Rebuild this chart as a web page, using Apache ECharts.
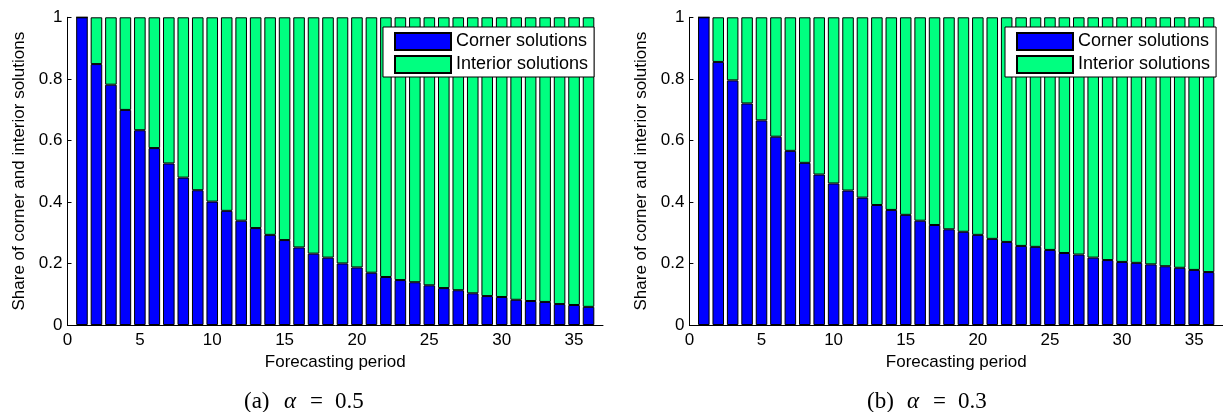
<!DOCTYPE html>
<html>
<head>
<meta charset="utf-8">
<script src="https://cdn.jsdelivr.net/npm/echarts@6/dist/echarts.min.js"></script>
<style>
html,body{margin:0;padding:0;background:#fff;}
#c{width:1223px;height:412px;}
</style>
</head>
<body>
<div id="c"></div>
<script>
// x-axis positions 0..37 (bars occupy 1..36)
const axisPositions = ['0','1','2','3','4','5','6','7','8','9','10','11','12','13','14','15','16','17','18','19','20','21','22','23','24','25','26','27','28','29','30','31','32','33','34','35','36','37'];
const periods = [1,2,3,4,5,6,7,8,9,10,11,12,13,14,15,16,17,18,19,20,21,22,23,24,25,26,27,28,29,30,31,32,33,34,35,36];
const xTicks = [0,5,10,15,20,25,30,35];
const yTicks = [0,0.2,0.4,0.6,0.8,1];
const cornerA = [1.000,0.848,0.781,0.699,0.633,0.575,0.525,0.479,0.438,0.401,0.371,0.339,0.315,0.293,0.276,0.252,0.232,0.219,0.200,0.187,0.170,0.156,0.146,0.139,0.129,0.120,0.113,0.103,0.094,0.091,0.082,0.078,0.075,0.068,0.065,0.059];
const interiorA = [0.000,0.152,0.219,0.301,0.367,0.425,0.475,0.521,0.562,0.599,0.629,0.661,0.685,0.707,0.724,0.748,0.768,0.781,0.800,0.813,0.830,0.844,0.854,0.861,0.871,0.880,0.887,0.897,0.906,0.909,0.918,0.922,0.925,0.932,0.935,0.941];
const cornerB = [1.000,0.855,0.795,0.720,0.665,0.612,0.566,0.527,0.489,0.460,0.437,0.414,0.390,0.374,0.358,0.339,0.325,0.311,0.303,0.293,0.280,0.270,0.257,0.254,0.244,0.234,0.229,0.219,0.211,0.205,0.202,0.197,0.191,0.186,0.179,0.172];
const interiorB = [0.000,0.145,0.205,0.280,0.335,0.388,0.434,0.473,0.511,0.540,0.563,0.586,0.610,0.626,0.642,0.661,0.675,0.689,0.697,0.707,0.720,0.730,0.743,0.746,0.756,0.766,0.771,0.781,0.789,0.795,0.798,0.803,0.809,0.814,0.821,0.828];
const seriesNames = ['Corner solutions','Interior solutions'];
const captions = [['(a)','α','0.5'],['(b)','α','0.3']];
const xName = 'Forecasting period';
const yName = 'Share of corner and interior solutions';

const SANS = 'Liberation Sans, Arial, Helvetica, sans-serif';
const SERIF = 'Liberation Serif, Times New Roman, serif';
const colors = ['#0000ff', '#00ff80'];

const chart = echarts.init(document.getElementById('c'), null, {renderer:'canvas'});

const grids = [
  {left: 67.5, top: 17.3, width: 535.5, height: 307.7},
  {left: 689.4, top: 17.3, width: 535, height: 307.7}
];

function isTick(idx){ return xTicks.indexOf(Number(axisPositions[idx])) >= 0; }

function xAxisDef(i){
  return {
    type:'category', gridIndex:i, data: axisPositions, boundaryGap:false,
    name: xName, nameLocation:'middle', nameGap:22,
    nameTextStyle:{fontFamily:SANS, fontSize:17, color:'#000'},
    axisLine:{show:true, onZero:false, lineStyle:{color:'#000', width:1}},
    axisTick:{show:true, inside:true, length:4, interval: isTick, lineStyle:{color:'#000'}},
    axisLabel:{fontFamily:SANS, fontSize:17, color:'#000', margin:7, interval: isTick},
    splitLine:{show:false}
  };
}
function yAxisDef(i){
  return {
    type:'value', gridIndex:i, min:0, max:1, interval:0.2,
    name: yName, nameLocation:'middle', nameGap:40, nameRotate:90,
    nameTextStyle:{fontFamily:SANS, fontSize:17, color:'#000'},
    axisLine:{show:true, lineStyle:{color:'#000', width:1}},
    axisTick:{show:true, inside:true, length:4, lineStyle:{color:'#000'}},
    axisLabel:{fontFamily:SANS, fontSize:17, color:'#000', margin:5,
      formatter: function(v){ return String(+v.toFixed(1)); }},
    splitLine:{show:false}
  };
}

function pairs(vals){ return periods.map((p,k)=>[String(p), vals[k]]); }

function barSeries(name, vals, gi, color){
  return {
    type:'bar', name:name, xAxisIndex:gi, yAxisIndex:gi,
    stack:'s'+gi, barWidth:'80%',
    data: pairs(vals),
    itemStyle:{color:color, borderColor:'#000', borderWidth:1},
    emphasis:{disabled:true},
    animation:false
  };
}

function legendDef(left){
  return {
    left:left, top:27, orient:'vertical',
    data: seriesNames,
    itemWidth:56, itemHeight:17, itemGap:4,
    padding:[5,6,3,11],
    borderColor:'#000', borderWidth:1, backgroundColor:'#fff',
    icon:'rect',
    textStyle:{fontFamily:SANS, fontSize:18, color:'#000'},
    selectedMode:false
  };
}

function captionDef(c, left){
  const base = {fontFamily:SERIF, fontSize:23, color:'#000', fontWeight:'normal'};
  return {
    left:left, top:385,
    text: '{a|' + c[0] + '}{al|' + c[1] + '}{eq|=}{n|' + c[2] + '}',
    textStyle:{
      fontWeight:'normal',
      rich:{
        a:Object.assign({width:40}, base),
        al:Object.assign({width:26, fontStyle:'italic'}, base),
        eq:Object.assign({width:25}, base),
        n:Object.assign({}, base)
      }
    }
  };
}

chart.setOption({
  animation:false,
  backgroundColor:'#fff',
  title:[captionDef(captions[0], 239), captionDef(captions[1], 862)],
  legend:[legendDef(383), legendDef(1005)],
  grid: grids,
  xAxis:[xAxisDef(0), xAxisDef(1)],
  yAxis:[yAxisDef(0), yAxisDef(1)],
  series:[
    barSeries(seriesNames[0], cornerA, 0, colors[0]),
    barSeries(seriesNames[1], interiorA, 0, colors[1]),
    barSeries(seriesNames[0], cornerB, 1, colors[0]),
    barSeries(seriesNames[1], interiorB, 1, colors[1])
  ]
});
</script>
</body>
</html>
